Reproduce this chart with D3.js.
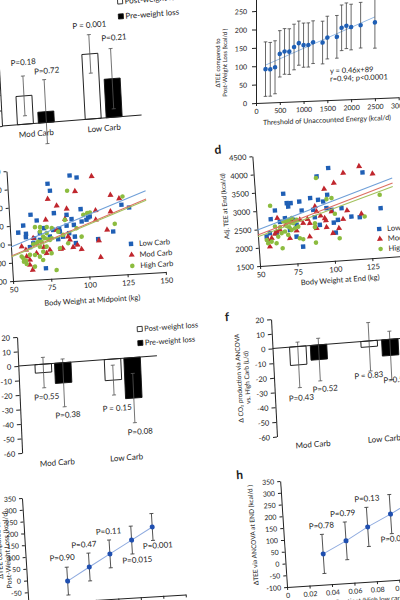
<!DOCTYPE html>
<html><head><meta charset="utf-8">
<script src="https://cdn.jsdelivr.net/npm/d3@7"></script>
<style>body{margin:0;background:#fff;overflow:hidden}svg{display:block;font-family:Lato,"Open Sans",sans-serif}</style>
</head><body><script>
// ---------------- DATA ----------------
const barCats = ["Mod Carb", "Low Carb"];
const barSeries = ["Post-weight loss", "Pre-weight loss"];
// panel a
const aPost = [91, 209], aPostErr = [64, 62], aPostP = ["P=0.18", "P = 0.001"];
const aPre = [35, 124], aPreErr = [103, 97], aPreP = ["P=0.72", "P=0.21"];
const aTicks = [0, 50, 100, 150, 200, 250, 300];
// panel b
const bThr = [200, 300, 400, 500, 600, 700, 800, 900, 1000, 1100, 1200, 1400, 1500, 1700, 1800, 1900, 2000, 2200, 2500];
const bVal = [91, 90, 95, 131, 137, 136, 148, 158, 152, 152, 159, 157, 170, 171, 195, 200, 196, 200, 206];
const bErr = [74, 73, 72, 63, 62, 62, 62, 60, 60, 60, 58, 58, 58, 58, 62, 62, 62, 62, 70];
const bTrend = [[200, 102], [2500, 221]];
const bXTicks = [0, 500, 1000, 1500, 2000, 2500, 3000];
const bYTicks = [0, 50, 100, 150, 200, 250, 300];
const bEquation = ["y = 0.46x+89", "r=0.94; p<0.0001"];
// panel c (body weight at midpoint, kg ; TEE kcal/d)
const groups = ["Low Carb", "Mod Carb", "High Carb"];
const cLow = [[91,4280],[95.5,4216],[76.3,4093],[77.6,3897],[79.3,3283],[64,3275],[67.8,3108],[58.8,2993],[55.3,2810],[60.3,2761],[60.1,2671],[65.5,2630],[69.4,2758],[72.2,2890],[78.2,2827],[82.2,2854],[87.1,2922],[90.6,3089],[91.9,2930],[96.9,3348],[97.1,3010],[100.3,3048],[102.6,3133],[87.5,3214],[88.5,2712],[92.1,2608],[92.5,2428],[62.4,2393],[72,1795],[82.5,2770],[69.2,2576],[81.1,2565],[107.2,2502],[117.3,2685],[123.7,3400],[128.6,3313],[101.5,3108],[75.8,2649],[64.7,2496],[84.4,2627]];
const cMod = [[105.3,4222],[93.9,3840],[75.8,3673],[81.4,3477],[87.8,3378],[106.6,3285],[116.3,3234],[122.4,3575],[116.9,3681],[73.7,3113],[86.3,3100],[106.4,3032],[113.4,2740],[107.6,2461],[108.2,2005],[96,2253],[93.5,2379],[83.7,2314],[90.6,2322],[71.5,2371],[57,2423],[59.7,2325],[59.9,2142],[61.7,1910],[63.3,1768],[66.5,2218],[75.3,2286],[64.9,2633],[80.5,2821],[88.7,2526],[87.7,2619],[82.5,2289],[73,2202],[61.9,2046]];
const cHigh = [[88.8,3870],[124.7,3624],[101,3228],[102.8,3242],[98.4,3190],[86.2,3081],[66.4,2931],[69.7,2922],[74.1,2911],[77.3,2876],[69.5,2802],[73.8,2748],[71.4,2660],[74.6,2581],[76.9,2603],[70.2,2526],[66.9,2491],[68.9,2393],[73.3,2382],[70.9,2251],[76.3,2193],[81.9,2316],[87.5,2439],[96.5,2597],[57.6,2103],[59.3,2032],[59.6,1942],[62.1,2183],[65.4,2174],[64.9,1855],[68.5,2120],[70.5,2024],[78.9,1729],[118.6,2892],[93.5,2835],[81.4,2772],[84.5,2674],[64.6,2469],[68,2532],[72.5,2614],[75.7,2559],[56.6,2150],[57.9,2011]];
const cTrendLow = [[50,2430],[140,3745]], cTrendMod = [[50,2185],[140,3520]], cTrendHigh = [[50,2160],[140,3480]];
// panel d (body weight at end, kg ; adj TEE kcal/d)
const dLow = [[99.9,4036],[122.5,3850],[68.8,3422],[70.7,3160],[73.3,3152],[71.5,3064],[62.5,2982],[59.3,2753],[65.3,2663],[68.8,2753],[79.1,3179],[80.3,2931],[86.5,3253],[91.7,3190],[95,3135],[96.9,2947],[100.2,2892],[98,3310],[101.1,2540],[106.9,2920],[113.1,2671],[118.6,2638],[132.9,2843],[58.1,2374],[62.6,2360],[71.6,2425],[76.3,2548],[79.6,1945],[75.7,2229],[88.7,2723],[91.7,2505],[102,2264],[88,2928],[55.8,2286],[91.8,3829],[104,2606],[74.3,2693]];
const dMod = [[120.5,4023],[109.6,3872],[129.1,3796],[102.9,3616],[96.2,3471],[89.3,3015],[90.1,2873],[92.6,2750],[95.9,2611],[104.3,2376],[107.5,2617],[110.5,2843],[119.9,2726],[56.7,2193],[59.1,2234],[61.5,2346],[62.7,2404],[64.9,2445],[69.1,2570],[73.2,2696],[78.7,2679],[83.8,2685],[85.1,2570],[89.4,2420],[96.1,2428],[100.1,2253],[84.5,2204],[71.2,2199],[95.3,2677],[100.1,2846],[63.7,2769],[80.7,2584],[76,2393],[57.5,2008]];
const dHigh = [[91.3,3788],[132.9,3209],[121.9,2647],[104.3,2103],[59.5,3119],[55.7,2196],[56.5,2103],[58.9,2142],[62.1,2087],[61.8,2546],[65.1,2518],[67.5,2666],[69.3,2660],[70.9,2701],[71.9,2625],[73.3,2742],[74.1,2603],[75.3,2644],[76.5,2685],[69.6,2540],[71.3,2499],[65.9,2352],[68.2,2390],[70.2,2292],[72.7,2423],[75,2461],[77.3,2499],[65.9,1940],[77.8,2180],[88.5,2559],[88.3,2453],[88.3,2030],[97.3,3193],[100.7,3212],[102.2,2778],[80,2147],[63.5,2264]];
const dTrendLow = [[50,2483],[142,3640]], dTrendMod = [[50,2346],[142,3504]], dTrendHigh = [[50,2300],[142,3411]];
const wTicks = [50, 75, 100, 125, 150];
const teeTicks = [1500, 2000, 2500, 3000, 3500, 4000, 4500];
// panel e
const ePost = [-5.8, -14.5], ePostErr = [10.5, 10.3], ePostP = ["P=0.55", "P = 0.15"];
const ePre = [-13.9, -27.9], ePreErr = [16.5, 17], ePreP = ["P=0.38", "P=0.08"];
// panel f
const fPost = [-12.5, -4], fPostErr = [15.5, 16.5], fPostP = ["P=0.43", "P = 0.83"];
const fPre = [-10, -11], fPreErr = [14.5, 16.5], fPreP = ["P=0.52", "P=0.56"];
const efTicks = [-60, -50, -40, -30, -20, -10, 0, 10, 20];
// panel g
const gX = [0.036, 0.056, 0.075, 0.095, 0.114];
const gY = [-13, 41, 91, 144, 194];
const gErr = [59, 59, 59, 59, 57];
const gP = ["P=0.90", "P=0.47", "P=0.11", "P=0.015", "P=0.001"];
// panel h
const hX = [0.034, 0.055, 0.075, 0.096, 0.117];
const hY = [30, 79, 132, 180, 232];
const hErr = [83, 80, 83, 83, 83];
const hP = ["P=0.78", "P=0.79", "P=0.13", "P=0.01", "P<0.001"];
const ghYTicks = [-100, -50, 0, 50, 100, 150, 200, 250, 300, 350];
const ghXTicks = [0, 0.02, 0.04, 0.06, 0.08, 0.1, 0.12, 0.14];

// ---------------- DRAWING ----------------
const FONT = "Lato, 'Open Sans', sans-serif";
const INK = "#222";
const svg = d3.select("body").append("svg").attr("width", 400).attr("height", 600);
svg.append("rect").attr("width", 400).attr("height", 600).attr("fill", "#fff");

function panel(x0, y0, ax, ay) {
  const a = ax * Math.PI / 180, b = ay * Math.PI / 180;
  return svg.append("g").attr("transform",
    `matrix(${Math.cos(a)},${Math.sin(a)},${Math.sin(b)},${Math.cos(b)},${x0},${y0})`);
}
function styleAxis(sel, fs) {
  sel.attr("font-size", fs).attr("font-family", FONT);
  sel.selectAll("path.domain").attr("stroke", INK).attr("stroke-width", 1);
  sel.selectAll(".tick line").attr("stroke", INK);
  sel.selectAll(".tick text").attr("fill", INK);
}
function txt(g, x, y, s, fs, anchor, extra) {
  const t = g.append("text").attr("x", x).attr("y", y).attr("font-size", fs)
    .attr("fill", INK).attr("text-anchor", anchor || "start").text(s);
  if (extra) extra(t);
  return t;
}
function vtxt(g, x, y, s, fs) {
  return g.append("text").attr("transform", `translate(${x},${y}) rotate(-90)`)
    .attr("dy", "0.35em").attr("font-size", fs).attr("fill", INK)
    .attr("text-anchor", "middle").text(s);
}
const fmtInt = d => String(d);
const fmtDec = d => d === 0 ? "0" : String(+d.toFixed(2));

// ---- bar panels (a, e, f)
function barPanel(g, cfg) {
  const x = d3.scaleBand().domain(barCats).range([0, cfg.width]);
  const y = d3.scaleLinear().domain(cfg.yDomain).range(cfg.yRange);
  g.append("g").call(d3.axisLeft(y).tickValues(cfg.yTicks).tickFormat(fmtInt)
    .tickSize(4).tickSizeOuter(0).tickPadding(3)).call(styleAxis, cfg.fs);
  const series = [
    { vals: cfg.post, err: cfg.postErr, p: cfg.postP, off: cfg.postOff, fill: "#fff", shift: -cfg.sep },
    { vals: cfg.pre, err: cfg.preErr, p: cfg.preP, off: cfg.preOff, fill: "#000", shift: cfg.sep }
  ];
  series.forEach(s => {
    const rows = barCats.map((c, i) => ({
      cx: x(c) + x.bandwidth() / 2 + s.shift, v: s.vals[i], e: s.err[i], p: s.p[i], off: s.off[i]
    }));
    g.selectAll(null).data(rows).join("rect")
      .attr("x", d => d.cx - cfg.bw / 2).attr("width", cfg.bw)
      .attr("y", d => Math.min(y(d.v), y(0))).attr("height", d => Math.abs(y(d.v) - y(0)))
      .attr("fill", s.fill).attr("stroke", "#111").attr("stroke-width", 0.9);
    g.selectAll(null).data(rows).join("line")
      .attr("x1", d => d.cx).attr("x2", d => d.cx)
      .attr("y1", d => y(d.v + d.e)).attr("y2", d => y(d.v - d.e))
      .attr("stroke", "#555").attr("stroke-width", 0.8);
    [1, -1].forEach(sg => {
      g.selectAll(null).data(rows).join("line")
        .attr("x1", d => d.cx - 2).attr("x2", d => d.cx + 2)
        .attr("y1", d => y(d.v + sg * d.e)).attr("y2", d => y(d.v + sg * d.e))
        .attr("stroke", "#555").attr("stroke-width", 0.8);
    });
    g.selectAll(null).data(rows).join("text")
      .attr("x", d => d.cx + d.off[0])
      .attr("y", d => (d.v >= 0 ? y(d.v + d.e) : y(d.v - d.e)) + d.off[1])
      .attr("text-anchor", "middle").attr("font-size", cfg.pfs).attr("fill", INK)
      .text(d => d.p);
  });
  g.append("line").attr("x1", 0).attr("x2", cfg.width + cfg.ext)
    .attr("y1", y(0)).attr("y2", y(0)).attr("stroke", INK).attr("stroke-width", 1);
  g.selectAll(null).data(barCats).join("text")
    .attr("x", d => x(d) + x.bandwidth() / 2).attr("y", cfg.catY)
    .attr("text-anchor", "middle").attr("font-size", cfg.cfs).attr("fill", INK).text(d => d);
  if (cfg.legend) {
    const L = cfg.legend;
    barSeries.forEach((s, i) => {
      const ly = L.y[i];
      g.append("rect").attr("x", L.x - L.box / 2).attr("y", ly - L.box / 2)
        .attr("width", L.box).attr("height", L.box)
        .attr("fill", i === 0 ? "#fff" : "#000").attr("stroke", "#111").attr("stroke-width", 0.8);
      txt(g, L.x + L.box / 2 + 2, ly + L.fs * 0.35, s, L.fs);
    });
  }
  return { x, y };
}

// panel a
barPanel(panel(2, 126, -4.5, 3), {
  width: 136, ext: 4, yDomain: [0, 300], yRange: [0, -93.3], yTicks: aTicks, fs: 7.5,
  post: aPost, postErr: aPostErr, postP: aPostP, postOff: [[1, -11], [1, -7]],
  pre: aPre, preErr: aPreErr, preP: aPreP, preOff: [[3, -6], [4, -8]],
  bw: 16, sep: 10.5, pfs: 8, cfs: 8, catY: 13,
  legend: { x: 124.5, y: [-115, -100], box: 5, fs: 8 }
});
// panel e
barPanel(panel(18.3, 366, -4.2, 2.5), {
  width: 139, ext: 0, yDomain: [-60, 20], yRange: [87, -29], yTicks: efTicks, fs: 7.5,
  post: ePost, postErr: ePostErr, postP: ePostP, postOff: [[2, 12], [2.5, 16]],
  pre: ePre, preErr: ePreErr, preP: ePreP, preOff: [[3, 11], [5, 12]],
  bw: 16.5, sep: 9.8, pfs: 8, cfs: 8, catY: 102,
  legend: { x: 123, y: [-28, -14], box: 5, fs: 7.5 }
});
// panel f
const gf = panel(272.5, 348.5, -4.5, 2.9);
barPanel(gf, {
  width: 143, ext: 20, yDomain: [-60, 20], yRange: [88.2, -29.4], yTicks: efTicks, fs: 7.5,
  post: fPost, postErr: fPostErr, postP: fPostP, postOff: [[1, 13], [-2, 7]],
  pre: fPre, preErr: fPreErr, preP: fPreP, preOff: [[4.5, 11], [4, 3]],
  bw: 16.5, sep: 10.4, pfs: 8, cfs: 8, catY: 101.6
});
txt(gf, -44, -35, "f", 12, "middle", t => t.attr("font-weight", "bold").attr("dy", "0.35em"));
vtxt(gf, -35, 27, "Δ CO\u2082 production via ANCOVA", 6.5);
vtxt(gf, -27, 27, "vs. High Carb (L/d)", 6.5);

// ---- panel b
{
  const g = panel(256, 103, -2.3, 0);
  const x = d3.scaleLinear().domain([0, 3000]).range([0, 142.8]);
  const y = d3.scaleLinear().domain([0, 300]).range([0, -110.4]);
  g.append("g").call(d3.axisLeft(y).tickValues(bYTicks).tickFormat(fmtInt).tickSize(4).tickSizeOuter(0).tickPadding(5)).call(styleAxis, 7);
  g.append("g").call(d3.axisBottom(x).tickValues(bXTicks).tickFormat(fmtInt).tickSize(3).tickSizeOuter(0).tickPadding(3)).call(styleAxis, 7);
  g.append("path").datum(bTrend).attr("d", d3.line().x(d => x(d[0])).y(d => y(d[1])))
    .attr("stroke", "#8db4e2").attr("stroke-width", 1).attr("fill", "none");
  const rows = bThr.map((t, i) => ({ t, v: bVal[i], e: bErr[i] }));
  g.selectAll(null).data(rows).join("line")
    .attr("x1", d => x(d.t)).attr("x2", d => x(d.t)).attr("y1", d => y(d.v + d.e)).attr("y2", d => y(d.v - d.e))
    .attr("stroke", "#444").attr("stroke-width", 0.8);
  [1, -1].forEach(sg => g.selectAll(null).data(rows).join("line")
    .attr("x1", d => x(d.t) - 1.8).attr("x2", d => x(d.t) + 1.8)
    .attr("y1", d => y(d.v + sg * d.e)).attr("y2", d => y(d.v + sg * d.e))
    .attr("stroke", "#444").attr("stroke-width", 0.8));
  g.selectAll(null).data(rows).join("circle")
    .attr("cx", d => x(d.t)).attr("cy", d => y(d.v)).attr("r", 2.3).attr("fill", "#1f5fb5");
  txt(g, 74, -26.5, bEquation[0], 7.5);
  txt(g, 74, -18.5, bEquation[1], 7.5);
  txt(g, 71, 22.3, "Threshold of Unaccounted Energy (kcal/d)", 7, "middle");
  vtxt(g, -38, -41.5, "ΔTEE compared to", 6);
  vtxt(g, -31, -41.5, "Post-Weight Loss (kcal/d )", 6);
}

// ---- scatter panels c, d
const colors = { "Low Carb": "#1f5fb5", "Mod Carb": "#c0262d", "High Carb": "#8cbc3f" };
const lineColors = { "Low Carb": "#6f9fd8", "Mod Carb": "#dd6f63", "High Carb": "#a3c25e" };
function marker(g, grp, cx, cy) {
  if (grp === "Low Carb") {
    g.append("rect").attr("x", cx - 2.2).attr("y", cy - 2.2).attr("width", 4.4).attr("height", 4.4).attr("fill", colors[grp]);
  } else if (grp === "Mod Carb") {
    g.append("path").attr("d", d3.symbol(d3.symbolTriangle, 16)()).attr("transform", `translate(${cx},${cy})`).attr("fill", colors[grp]);
  } else {
    g.append("circle").attr("cx", cx).attr("cy", cy).attr("r", 2.3).attr("fill", colors[grp]);
  }
}
function scatterPanel(g, cfg) {
  const x = d3.scaleLinear().domain([50, 150]).range([0, cfg.xLen]);
  const y = d3.scaleLinear().domain([1500, 4500]).range([0, -110]);
  g.append("g").call(d3.axisLeft(y).tickValues(teeTicks).tickFormat(fmtInt).tickSize(3).tickSizeOuter(0).tickPadding(3)).call(styleAxis, 7.5);
  g.append("g").call(d3.axisBottom(x).tickValues(wTicks).tickFormat(fmtInt).tickSize(3).tickSizeOuter(0).tickPadding(3)).call(styleAxis, 7.5);
  groups.forEach((grp, k) => {
    const pts = cfg.pts[k];
    const sel = g.append("g");
    pts.forEach(p => marker(sel, grp, x(p[0]), y(p[1])));
  });
  groups.forEach((grp, k) => {
    g.append("path").datum(cfg.trends[k]).attr("d", d3.line().x(d => x(d[0])).y(d => y(d[1])))
      .attr("stroke", lineColors[grp]).attr("stroke-width", 1.1).attr("fill", "none");
  });
  groups.forEach((grp, k) => {
    marker(g, grp, cfg.leg.x, cfg.leg.y[k]);
    txt(g, cfg.leg.x + 8, cfg.leg.y[k] + 2.6, grp, 7.5);
  });
  txt(g, cfg.xt[0], cfg.xt[1], cfg.xTitle, 7.5, "middle");
  return { x, y };
}
scatterPanel(panel(13, 281, -3.4, 3.4), {
  xLen: 153, pts: [cLow, cMod, cHigh], trends: [cTrendLow, cTrendMod, cTrendHigh],
  leg: { x: 120, y: [-30, -19, -8] }, xt: [78, 26.5], xTitle: "Body Weight at Midpoint (kg)"
});
{
  const g = panel(260, 266, -4, 4);
  scatterPanel(g, {
    xLen: 150, pts: [dLow, dMod, dHigh], trends: [dTrendLow, dTrendMod, dTrendHigh],
    leg: { x: 121.5, y: [-28.6, -18.6, -8.6] }, xt: [79, 22], xTitle: "Body Weight at End (kg)"
  });
  vtxt(g, -31, -62, "Adj. TEE at End (kcal/d)", 6.5);
  txt(g, -34, -119, "d", 12, "middle", t => t.attr("font-weight", "bold").attr("dy", "0.35em"));
}

// ---- panels g, h
function trendPanel(g, cfg) {
  const x = d3.scaleLinear().domain(cfg.xDomain).range([0, cfg.xDomain[1] * 1125]);
  const y = d3.scaleLinear().domain([-100, 350]).range(cfg.yRange);
  g.append("g").call(d3.axisLeft(y).tickValues(ghYTicks).tickFormat(fmtInt).tickSize(3).tickSizeOuter(0).tickPadding(3)).call(styleAxis, 7);
  g.append("g").attr("transform", `translate(0,${y(-100)})`)
    .call(d3.axisBottom(x).tickValues(ghXTicks.filter(t => t <= cfg.xDomain[1] + 1e-9)).tickFormat(fmtDec).tickSize(3).tickSizeOuter(0).tickPadding(3)).call(styleAxis, 7);
  const rows = cfg.xs.map((xv, i) => ({ xv, v: cfg.ys[i], e: cfg.errs[i], p: cfg.ps[i], off: cfg.offs[i] }));
  g.append("path").datum(rows).attr("d", d3.line().x(d => x(d.xv)).y(d => y(d.v)))
    .attr("stroke", "#8eaadf").attr("stroke-width", 1).attr("fill", "none");
  g.selectAll(null).data(rows).join("line")
    .attr("x1", d => x(d.xv)).attr("x2", d => x(d.xv)).attr("y1", d => y(d.v + d.e)).attr("y2", d => y(d.v - d.e))
    .attr("stroke", "#444").attr("stroke-width", 0.9);
  [1, -1].forEach(sg => g.selectAll(null).data(rows).join("line")
    .attr("x1", d => x(d.xv) - 2).attr("x2", d => x(d.xv) + 2)
    .attr("y1", d => y(d.v + sg * d.e)).attr("y2", d => y(d.v + sg * d.e))
    .attr("stroke", "#444").attr("stroke-width", 0.9));
  g.selectAll(null).data(rows).join("circle")
    .attr("cx", d => x(d.xv)).attr("cy", d => y(d.v)).attr("r", 2.5).attr("fill", "#1f4fb0");
  g.selectAll(null).data(rows).join("text")
    .attr("x", d => x(d.xv) + d.off[0])
    .attr("y", d => (d.off[1] < 0 ? y(d.v + d.e) : y(d.v - d.e)) + d.off[1])
    .attr("text-anchor", "middle").attr("font-size", 8).attr("fill", INK).text(d => d.p);
  return { x, y };
}
{
  const g = panel(27, 580.5, -3.5, 3.5);
  trendPanel(g, {
    xDomain: [0, 0.14], yRange: [23.6, -82.6], xs: gX, ys: gY, errs: gErr, ps: gP,
    offs: [[-4, -7], [-4, -6], [0, -6], [4.5, 9], [4.5, 8]]
  });
  vtxt(g, -26, -32, "ΔTEE compared to", 7);
  vtxt(g, -18, -32, "Post-Weight Loss (kcal/d)", 7);
}
{
  const g = panel(287, 587, -3.7, 3.7);
  trendPanel(g, {
    xDomain: [0, 0.12], yRange: [0, -106.2], xs: hX, ys: hY, errs: hErr, ps: hP,
    offs: [[0, -6], [-1.5, -6], [1, -6], [1, 8], [1, 8]]
  });
  vtxt(g, -30.6, -54, "ΔTEE via ANCOVA  at END (kcal/d )", 6.5);
  txt(g, -40, -115, "h", 12, "middle", t => t.attr("font-weight", "bold").attr("dy", "0.35em"));
  txt(g, 62, 20.5, "Δ Respiratory Quotient (High low carb)", 6.5, "middle");
}
</script></body></html>
